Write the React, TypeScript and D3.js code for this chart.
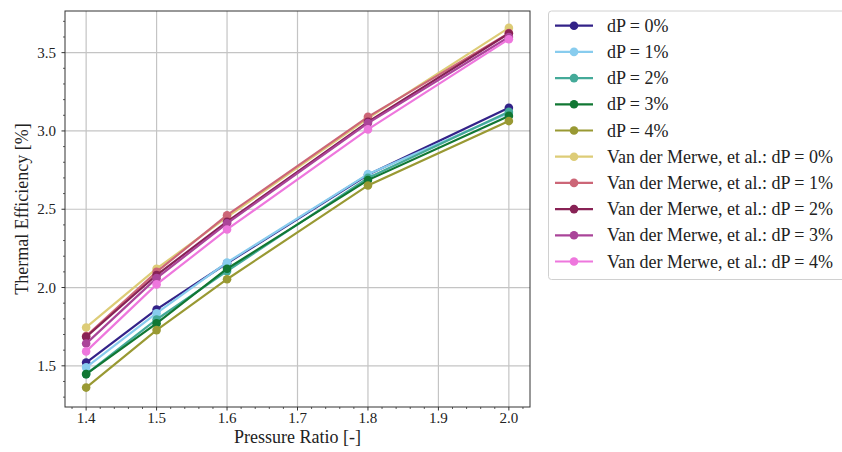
import React from "react";
import * as d3 from "d3";

const pressureRatios = [1.4, 1.5, 1.6, 1.8, 2.0];

const dp0 = [1.521, 1.86, 2.155, 2.72, 3.148];
const dp1 = [1.49, 1.836, 2.16, 2.724, 3.115];
const dp2 = [1.447, 1.796, 2.105, 2.7, 3.122];
const dp3 = [1.447, 1.771, 2.12, 2.686, 3.096];
const dp4 = [1.361, 1.728, 2.053, 2.652, 3.063];
const vdm0 = [1.745, 2.12, 2.45, 3.08, 3.658];
const vdm1 = [1.69, 2.1, 2.462, 3.09, 3.625];
const vdm2 = [1.685, 2.08, 2.42, 3.058, 3.622];
const vdm3 = [1.642, 2.06, 2.41, 3.05, 3.6];
const vdm4 = [1.592, 2.02, 2.371, 3.01, 3.586];

const seriesLabels = [
  "dP = 0%",
  "dP = 1%",
  "dP = 2%",
  "dP = 3%",
  "dP = 4%",
  "Van der Merwe, et al.: dP = 0%",
  "Van der Merwe, et al.: dP = 1%",
  "Van der Merwe, et al.: dP = 2%",
  "Van der Merwe, et al.: dP = 3%",
  "Van der Merwe, et al.: dP = 4%",
];
const seriesValues = [dp0, dp1, dp2, dp3, dp4, vdm0, vdm1, vdm2, vdm3, vdm4];
const seriesColors = [
  "#332288",
  "#88CCEE",
  "#44AA99",
  "#117733",
  "#999933",
  "#DDCC77",
  "#CC6677",
  "#882255",
  "#AA4499",
  "#EE77DD",
];

const xTicks = [1.4, 1.5, 1.6, 1.7, 1.8, 1.9, 2.0];
const yTicks = [1.5, 2.0, 2.5, 3.0, 3.5];

const FONT = '"Liberation Serif", "Times New Roman", serif';
const textStyle = { fontFamily: FONT };

export default function App() {
  const W = 842;
  const H = 452;
  const left = 65;
  const right = 530;
  const top = 11;
  const bottom = 407;

  const x = d3.scaleLinear().domain([1.37, 2.03]).range([left, right]);
  const y = d3.scaleLinear().domain([1.237, 3.766]).range([bottom, top]);

  const line = d3
    .line<number>()
    .x((_, i) => x(pressureRatios[i]))
    .y((d) => y(d));

  const xMinor = d3.range(1.38, 2.03, 0.02).filter(
    (v) => !xTicks.some((t) => Math.abs(t - v) < 1e-6)
  );
  const yMinor = d3.range(1.3, 3.76, 0.1).filter(
    (v) => !yTicks.some((t) => Math.abs(t - v) < 1e-6)
  );

  const legX = 548.5;
  const legTop = 11;
  const rowH = 26.2;
  const row0 = 25.7;

  return (
    <svg
      width={W}
      height={H}
      style={{ position: "absolute", left: 0, top: 0, background: "#fff" }}
    >
      <rect x={0} y={0} width={W} height={H} fill="#fff" />
      {/* grid */}
      {xTicks.map((t) => (
        <line
          key={"gx" + t}
          x1={x(t)}
          x2={x(t)}
          y1={top}
          y2={bottom}
          stroke="#c4c4c4"
          strokeWidth={1.2}
        />
      ))}
      {yTicks.map((t) => (
        <line
          key={"gy" + t}
          x1={left}
          x2={right}
          y1={y(t)}
          y2={y(t)}
          stroke="#c4c4c4"
          strokeWidth={1.2}
        />
      ))}
      {/* series */}
      {seriesValues.map((vals, si) => (
        <g key={"s" + si}>
          <path
            d={line(vals) || ""}
            fill="none"
            stroke={seriesColors[si]}
            strokeWidth={2.2}
          />
          {vals.map((v, i) => (
            <circle
              key={i}
              cx={x(pressureRatios[i])}
              cy={y(v)}
              r={4.3}
              fill={seriesColors[si]}
            />
          ))}
        </g>
      ))}
      {/* frame */}
      <rect
        x={left}
        y={top}
        width={right - left}
        height={bottom - top}
        fill="none"
        stroke="#333"
        strokeWidth={1}
      />
      {/* x ticks */}
      {xTicks.map((t) => (
        <g key={"xt" + t}>
          <line x1={x(t)} x2={x(t)} y1={bottom} y2={bottom + 3.5} stroke="#333" />
          <text
            x={x(t)}
            y={423}
            fontSize={15}
            textAnchor="middle"
            fill="#222"
            style={textStyle}
          >
            {t.toFixed(1)}
          </text>
        </g>
      ))}
      {xMinor.map((t) => (
        <line
          key={"xm" + t}
          x1={x(t)}
          x2={x(t)}
          y1={bottom}
          y2={bottom + 2}
          stroke="#333"
          strokeWidth={0.8}
        />
      ))}
      {/* y ticks */}
      {yTicks.map((t) => (
        <g key={"yt" + t}>
          <line x1={left - 3.5} x2={left} y1={y(t)} y2={y(t)} stroke="#333" />
          <text
            x={56}
            y={y(t) + 5}
            fontSize={15}
            textAnchor="end"
            fill="#222"
            style={textStyle}
          >
            {t.toFixed(1)}
          </text>
        </g>
      ))}
      {yMinor.map((t) => (
        <line
          key={"ym" + t}
          x1={left - 2}
          x2={left}
          y1={y(t)}
          y2={y(t)}
          stroke="#333"
          strokeWidth={0.8}
        />
      ))}
      {/* axis labels */}
      <text
        x={(left + right) / 2}
        y={443}
        fontSize={18}
        textAnchor="middle"
        fill="#222"
        style={textStyle}
      >
        Pressure Ratio [-]
      </text>
      <text
        transform={`translate(28, ${(top + bottom) / 2}) rotate(-90)`}
        fontSize={18}
        textAnchor="middle"
        fill="#222"
        style={textStyle}
      >
        Thermal Efficiency [%]
      </text>
      {/* legend */}
      <rect
        x={legX}
        y={legTop}
        width={W - legX + 5}
        height={279.5 - legTop}
        rx={3}
        fill="#fff"
        stroke="#d0d0d0"
        strokeWidth={1}
      />
      {seriesLabels.map((lab, i) => {
        const cy = row0 + i * rowH;
        return (
          <g key={"l" + i}>
            <line
              x1={555}
              x2={593}
              y1={cy}
              y2={cy}
              stroke={seriesColors[i]}
              strokeWidth={2.2}
            />
            <circle cx={574} cy={cy} r={4.3} fill={seriesColors[i]} />
            <text
              x={607}
              y={cy + 6}
              fontSize={18}
              fill="#222"
              style={textStyle}
            >
              {lab}
            </text>
          </g>
        );
      })}
    </svg>
  );
}
